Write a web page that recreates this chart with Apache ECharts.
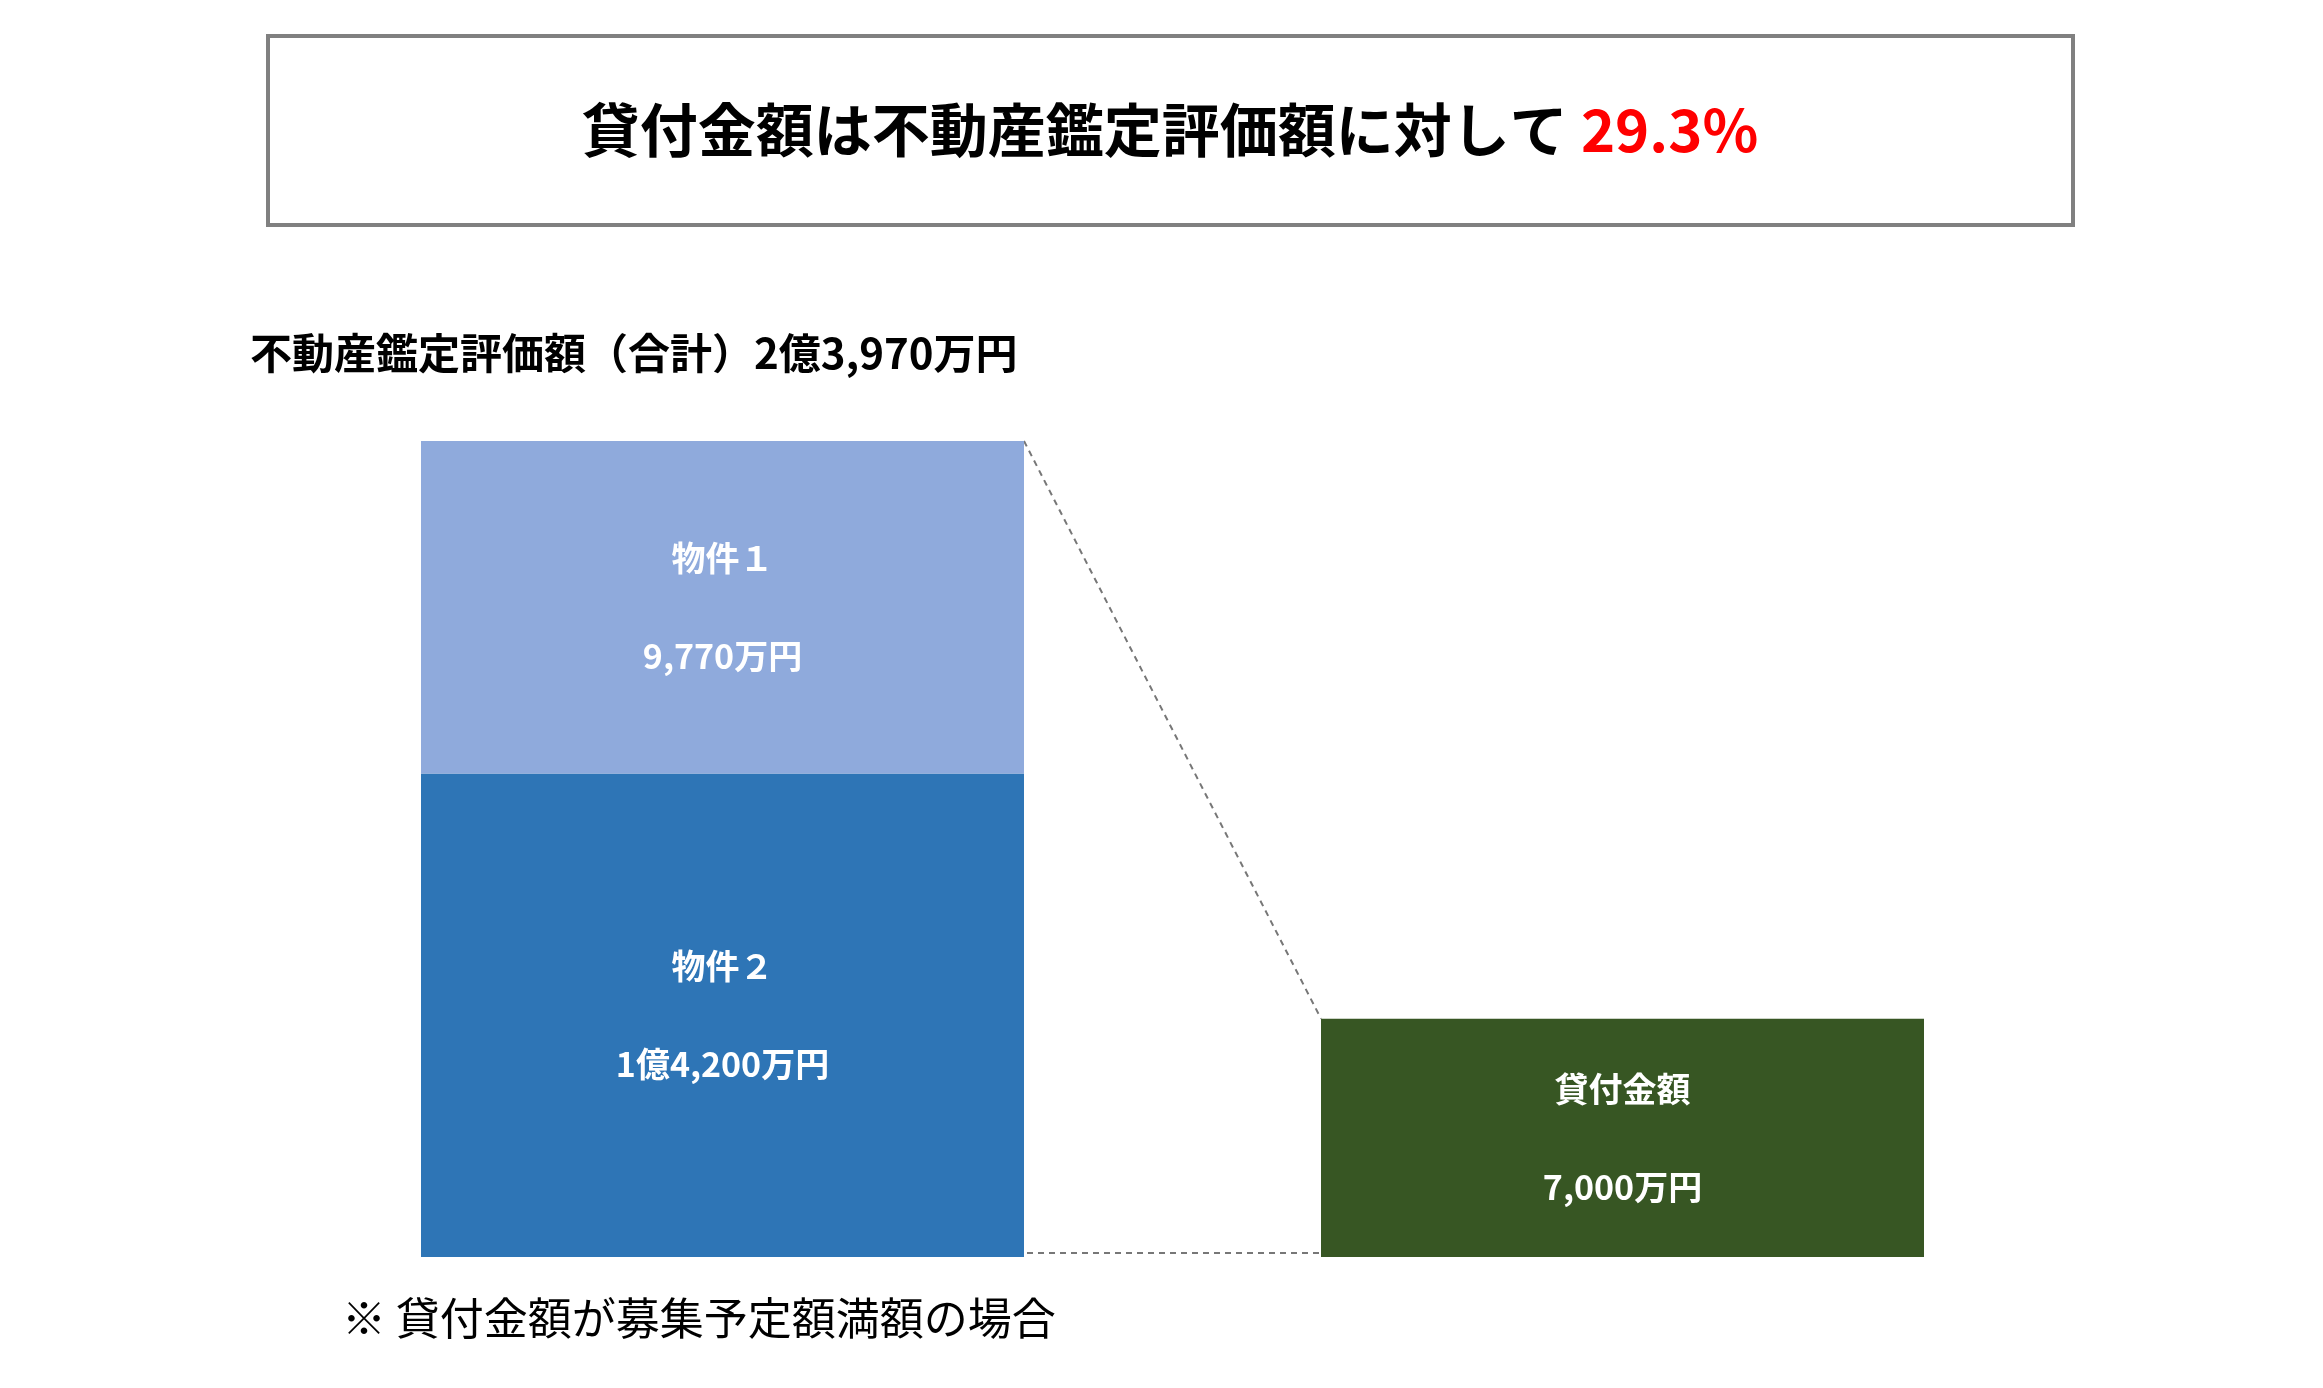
<!DOCTYPE html>
<html><head><meta charset="utf-8">
<script src="https://cdn.jsdelivr.net/npm/echarts@6/dist/echarts.min.js"></script>
<style>html,body{margin:0;padding:0;background:#fff}#c{width:2323px;height:1388px}</style>
</head><body><div id="c"></div>
<script>
const categories = ['不動産鑑定評価額', '貸付金額'];
const prop2 = [14200, null];
const prop1 = [9770, null];
const loan = [null, 7000];
const labels = {prop1: ['物件１', '9,770万円'], prop2: ['物件２', '1億4,200万円'], loan: ['貸付金額', '7,000万円']};
const totalMax = 23970;
const F = '"Noto Sans CJK JP", "Noto Sans", sans-serif';

const chart = echarts.init(document.getElementById('c'));
function lab(arr){
  return {show:true, position:'inside', formatter: arr[0] + '\n' + arr[1],
    color:'#fff', fontFamily:F, fontWeight:'bold', fontSize:34, lineHeight:98};
}
chart.setOption({
  animation:false,
  grid:{left:272.5, top:441, width:1800, height:816},
  xAxis:{type:'category', data:categories, show:false},
  yAxis:{type:'value', min:0, max:totalMax, show:false},
  series:[
    {type:'bar', stack:'a', data:prop2, barWidth:603, itemStyle:{color:'#2e75b6'}, label:lab(labels.prop2)},
    {type:'bar', stack:'a', data:prop1, barWidth:603, itemStyle:{color:'#8faadc', borderColor:'#fff', borderWidth:0}, label:lab(labels.prop1)},
    {type:'bar', stack:'a', data:loan, barWidth:603, itemStyle:{color:'#375623'}, label:lab(labels.loan)}
  ]
});
const p1top = chart.convertToPixel({seriesIndex:0}, [0, totalMax]);
const mid = chart.convertToPixel({seriesIndex:0}, [0, prop2[0]]);
const ltop = chart.convertToPixel({seriesIndex:0}, [1, loan[1]]);
const base = chart.convertToPixel({seriesIndex:0}, [0, 0]);
const hw = 301.5;
chart.setOption({graphic:[
  {type:'rect', shape:{x:268, y:36, width:1805, height:189}, style:{fill:'none', stroke:'#808080', lineWidth:4}},
  {type:'text', x:1170, y:130, style:{rich:{a:{fontSize:58, fontWeight:'bold', fill:'#000', fontFamily:F}, b:{fontSize:58, fontWeight:'bold', fill:'#ff0000', fontFamily:F}},
    text:'{a|貸付金額は不動産鑑定評価額に対して }{b|29.3%}', align:'center', verticalAlign:'middle'}},
  {type:'text', x:250, y:353, style:{text:'不動産鑑定評価額（合計）2億3,970万円', fontSize:42, fontWeight:'bold', fill:'#000', fontFamily:F, verticalAlign:'middle'}},
  {type:'text', x:342, y:1318, style:{text:'※ 貸付金額が募集予定額満額の場合', fontSize:44, fill:'#000', fontFamily:F, verticalAlign:'middle'}},
  {type:'line', shape:{x1:p1top[0]-hw, y1:mid[1], x2:p1top[0]+hw, y2:mid[1]}, style:{stroke:'#fff', lineWidth:3}},
  {type:'line', shape:{x1:p1top[0]+hw, y1:p1top[1], x2:ltop[0]-hw, y2:ltop[1]}, style:{stroke:'#777', lineWidth:2, lineDash:[6,5]}},
  {type:'line', shape:{x1:p1top[0]+hw-30, y1:base[1]-4, x2:ltop[0]-hw, y2:base[1]-4}, style:{stroke:'#777', lineWidth:2, lineDash:[6,5]}}
]});
</script></body></html>
